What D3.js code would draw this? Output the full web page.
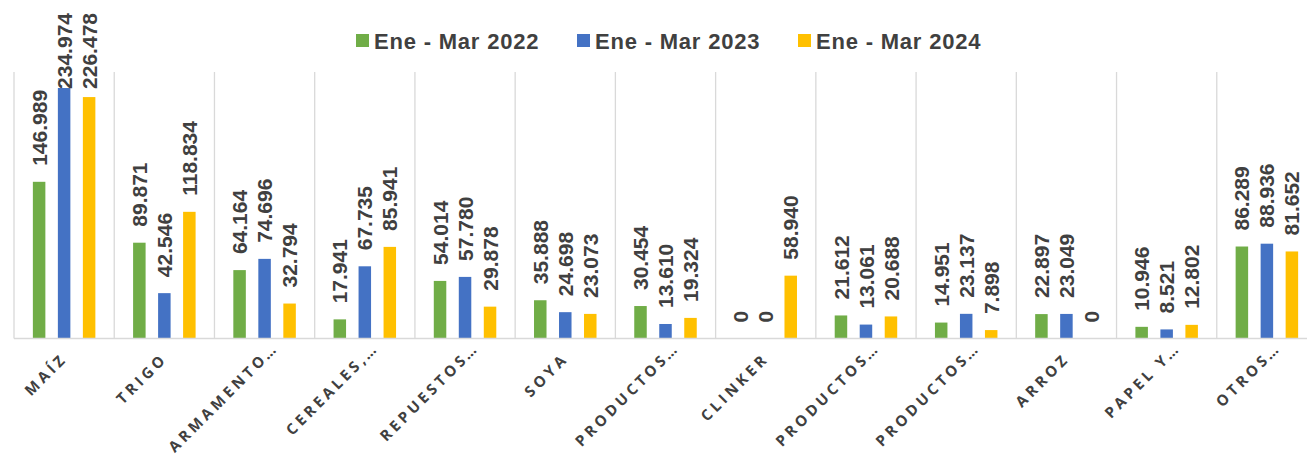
<!DOCTYPE html>
<html>
<head>
<meta charset="utf-8">
<script src="https://cdn.jsdelivr.net/npm/d3@7"></script>
<style>
    body { margin: 0; background: #fff; }
    svg { display: block; }
</style>
</head>
<body>
<div id="chart"></div>
<script>
    // data (values in units, shown with "." thousands)
    var categories = ["MAÍZ", "TRIGO", "ARMAMENTO…", "CEREALES,…", "REPUESTOS…", "SOYA",
        "PRODUCTOS…", "CLINKER", "PRODUCTOS…", "PRODUCTOS…", "ARROZ", "PAPEL Y…", "OTROS…"];
    var seriesNames = ["Ene - Mar 2022", "Ene - Mar 2023", "Ene - Mar 2024"];
    var seriesColors = ["#70AD47", "#4472C4", "#FFC000"];
    var values2022 = [146989, 89871, 64164, 17941, 54014, 35888, 30454, 0, 21612, 14951, 22897, 10946, 86289];
    var values2023 = [234974, 42546, 74696, 67735, 57780, 24698, 13610, 0, 13061, 23137, 23049, 8521, 88936];
    var values2024 = [226478, 118834, 32794, 85941, 29878, 23073, 19324, 58940, 20688, 7898, 0, 12802, 81652];
    var allSeries = [values2022, values2023, values2024];

    var width = 1307, height = 458;
    var margin = {top: 72, left: 14, bottom: 119.5};
    var plotRight = 1317;
    var plotBottom = height - margin.bottom;

    var svg = d3.select("#chart").append("svg")
            .attr("width", width)
            .attr("height", height);

    // scales
    var x = d3.scaleBand().domain(d3.range(categories.length))
            .range([margin.left, plotRight]).padding(0);
    var y = d3.scaleLinear().domain([0, 250000]).range([plotBottom, margin.top]);

    var fmt = d3.formatLocale({decimal: ",", thousands: ".", grouping: [3], currency: ["", ""]}).format(",d");

    // vertical gridlines between categories
    svg.append("g")
            .selectAll("line")
            .data(d3.range(categories.length + 1))
            .join("line")
            .attr("x1", function(i) { return x.step() * i + margin.left; })
            .attr("x2", function(i) { return x.step() * i + margin.left; })
            .attr("y1", margin.top)
            .attr("y2", plotBottom)
            .attr("stroke", "#D9D9D9")
            .attr("stroke-width", 1.3);

    // bars
    var groups = svg.append("g").selectAll("g")
            .data(categories)
            .join("g")
            .attr("transform", function(d, i) { return "translate(" + x(i) + ",0)"; });

    var barW = 12.5;
    function barX(s) { return x.bandwidth() / 2 + (s - 1) * 25 - barW / 2; }

    groups.each(function(c, i) {
        var g = d3.select(this);
        allSeries.forEach(function(vals, s) {
            var v = vals[i];
            if (v > 0) {
                g.append("rect")
                        .attr("x", barX(s))
                        .attr("width", barW)
                        .attr("y", y(v))
                        .attr("height", y(0) - y(v))
                        .attr("fill", seriesColors[s]);
            }
            var lbl = g.append("text")
                    .attr("font-family", "Liberation Sans, Arial, sans-serif")
                    .attr("font-weight", "bold")
                    .attr("font-size", 21)
                    .attr("fill", "#404040")
                    .attr("dy", "0.36em")
                    .text(fmt(v));
            var len = lbl.node().getComputedTextLength();
            var startY = Math.max(y(v) - 16, 13 + len);
            lbl.attr("transform", "translate(" + (barX(s) + barW / 2) + "," + startY + ") rotate(-90)");
        });
    });

    // baseline
    svg.append("line")
            .attr("x1", margin.left)
            .attr("x2", plotRight)
            .attr("y1", plotBottom)
            .attr("y2", plotBottom)
            .attr("stroke", "#D9D9D9")
            .attr("stroke-width", 1.5);

    // category labels, rotated; the ellipsis hangs past the anchor like in Excel
    var catG = svg.append("g").selectAll("g")
            .data(categories)
            .join("g")
            .attr("transform", function(d, i) {
                return "translate(" + (x(i) + x.bandwidth() / 2 + 4) + "," + (plotBottom + 21) + ") rotate(-45)";
            })
            .attr("font-family", "Open Sans, sans-serif")
            .attr("font-weight", 700)
            .attr("font-size", 15)
            .attr("fill", "#404040");

    catG.append("text")
            .attr("text-anchor", "end")
            .attr("letter-spacing", "3.6px")
            .text(function(d) { return d.replace("…", ""); });

    catG.filter(function(d) { return d.indexOf("…") >= 0; })
            .append("text")
            .attr("dx", -1)
            .text("…");

    // legend
    var legend = svg.append("g");
    var legendX = [356, 577, 798];
    seriesNames.forEach(function(name, s) {
        legend.append("rect")
                .attr("x", legendX[s])
                .attr("y", 34)
                .attr("width", 13)
                .attr("height", 13)
                .attr("fill", seriesColors[s]);
        legend.append("text")
                .attr("x", legendX[s] + 18)
                .attr("y", 48.5)
                .attr("font-family", "Liberation Sans, Arial, sans-serif")
                .attr("font-weight", "bold")
                .attr("font-size", 22)
                .attr("letter-spacing", "0.8px")
                .attr("fill", "#404040")
                .text(name);
    });
</script>
</body>
</html>
